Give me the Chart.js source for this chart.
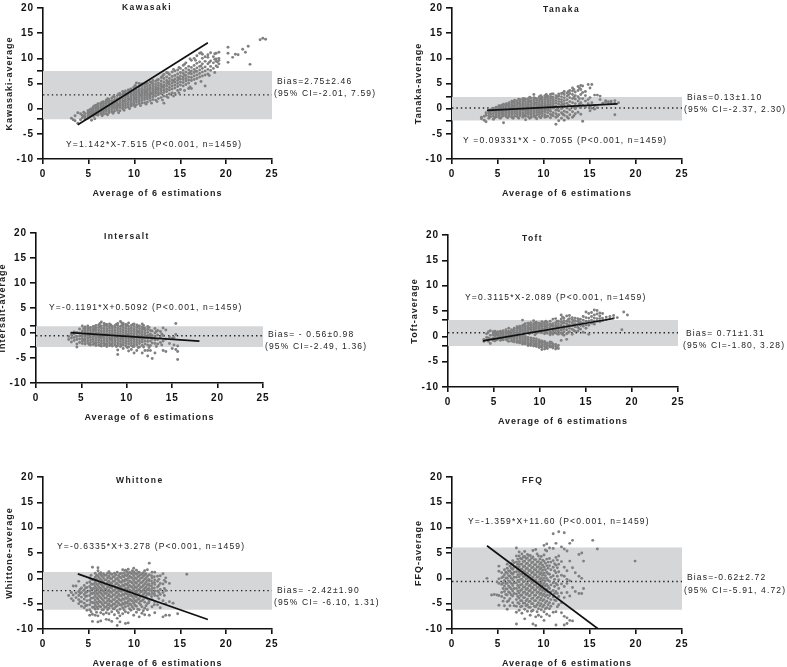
<!DOCTYPE html>
<html>
<head>
<meta charset="utf-8">
<title>Bland-Altman plots</title>
<script src="https://cdn.jsdelivr.net/npm/chart.js@4/dist/chart.umd.min.js"></script>
<style>
  html, body { margin: 0; background: #fff; overflow: hidden; }
  #page { position: relative; width: 787px; height: 667px; overflow: hidden; }
  canvas { position: absolute; }
</style>
</head>
<body>
<div id="page"></div>
<script>
const xTickValues = [0, 5, 10, 15, 20, 25];
const yTickValues = [-10, -5, 0, 5, 10, 15, 20];

// each row is one x followed by the y values read at that x
const kawasakiPoints = [
  [3.1,-1.9],[3.3,-2.2],[3.5,-2.4,-1.4],[3.8,-2.9,-0.8],[4.1,-2.2,-1],[4.3,-1.8,-1.3],[4.6,-2.1,-1.6,-1],[4.9,-1.9,-1.4,-0.9,-0.4],
  [5.1,-1.7,-1.2,-0.7,-0.2],[5.3,-2.3,-1.3,-0.9,-0.5,0],[5.5,-1.5,-1.1,-0.7,-0.3,0.1,0.4],[5.8,-1.2,-0.8,-0.5,-0.1,0.3,0.7],
  [6,-1.3,-0.9,-0.6,-0.2,0.2,0.6,1],[6.3,-1,-0.6,-0.3,0.1,0.4,0.8,1.1],[6.6,-1.1,-0.7,-0.3,0,0.4,0.7,1.1,1.4],[6.9,-1,-0.5,-0.1,0.3,0.6,1,1.3,1.7],
  [7.2,-0.8,-0.4,0,0.4,0.7,1.1,1.5,1.9],[7.5,-0.6,-0.2,0.2,0.5,0.9,1.3,1.6,2.1],[7.8,-0.5,0,0.3,0.7,1.1,1.4,1.8,2.3],[8.1,-0.3,0.1,0.5,0.9,1.2,1.6,2,2.6],
  [8.4,-0.4,0.2,0.6,1,1.4,1.8,2.2,2.7,3],[8.7,0,0.4,0.8,1.2,1.6,2,2.4,2.8,3.4],[9,0.2,0.6,1,1.4,1.8,2.2,2.6,3,3.5],[9.3,0.3,0.8,1.2,1.6,2,2.4,2.8,3.2,3.7],
  [9.6,0.5,0.9,1.3,1.7,2.1,2.5,2.9,3.3,3.9],[9.9,0.7,1.1,1.5,1.9,2.3,2.7,3.1,3.5,4.2],[10.2,0.8,1.3,1.7,2.1,2.5,2.9,3.3,3.7,4.3,5.1],[10.5,1,1.4,1.8,2.2,2.6,3,3.4,3.8,4.4,5],
  [10.8,1.1,1.6,2,2.4,2.8,3.2,3.6,4,4.6,4.9],[11.1,1.2,1.8,2.2,2.6,3,3.4,3.8,4.3,4.8],[11.4,1.3,1.9,2.3,2.7,3.1,3.6,4,4.5,5],[11.7,1.6,2.1,2.5,2.9,3.3,3.8,4.2,4.7,5.3],
  [12,1.8,2.3,2.8,3.2,3.6,4,4.5,5,5.6],[12.3,1.7,2.5,3,3.4,3.8,4.3,4.8,5.4],[12.6,2,2.8,3.2,3.7,4.1,4.6,5.1,5.8],[12.9,2.2,3,3.5,3.9,4.4,4.9,5.5,6.2],
  [13.2,1.1,2.5,3.2,3.7,4.2,4.7,5.3,6,6.8],[13.5,2.4,3.4,3.9,4.5,5,5.6,6.3,7.2],[13.8,2.9,3.7,4.2,4.8,5.4,6,6.8],[14.1,3.1,3.9,4.5,5.1,5.7,6.4,7.3],
  [14.4,3,4.1,4.7,5.3,5.9,6.6,7.5],[14.7,3.6,4.4,5,5.6,6.2,6.9,7.7],[15,3.8,4.7,5.3,5.9,6.5,7.2,8],[15.3,4.5,5.2,5.8,6.3,7,7.6,8.6],
  [15.6,4.8,5.5,6,6.6,7.3,8,9.1],[15.9,4,5.1,5.7,6.3,7,7.7,8.4],[16.2,4,5.6,6.2,6.9,7.5,8.2,9.6],[16.5,5.8,6.5,7.2,7.8,8.6,10],
  [16.8,6,6.7,7.4,8.1,9,10.5],[17.1,6.3,7,7.7,8.4,9.3,11],[17.4,6.5,7.3,8,8.9,10,10.8],[17.7,4.5,6.7,7.5,8.3,9.4,10.3],
  [18,6.9,7.8,8.9,10.2,10.7],[18.3,7.6,8.4,9.5,11.1],[18.6,8,9.1,10.3],[18.9,8.5,9.4,9.9,11],[19.2,8.9,9.6,10,11.2],
  [20.2,9.2,11,12.2],[20.7,10.2],[21,10.8],[21.3,10.7],[21.8,11.8],[22.1,11.2],[22.4,12.4],[22.6,8.8],[23.7,13.7],[24,14],[24.3,13.8]
];
const kawasakiEdge = [
  [4.45,-1.5,-0.7],[5.65,-2,-0.9,0.6],[6.45,-1.4,0.2,1.3],[7.05,-1.2,1.5,2],[7.65,-0.9,1,2.4],[8.25,-0.8,0.7,2.9],[8.85,-0.3,1.5,3.1],[9.45,0,1.9,3.7],
  [10.05,0.4,2,4.6],[10.65,0.6,2.7,4.7],[11.25,0.9,3.3,5],[11.85,1.1,3,5.2],[12.45,1.4,4,5.7],[13.05,1.7,4.4,6.5],[13.65,2.2,5.2,7.1],[14.25,2.5,5.5,7.8],
  [14.85,3.1,6,8.2],[15.45,3.6,6.7,8.8],[16.05,4.3,7.2,9.9],[16.65,5,7.5,9.6],[17.25,5.4,8.5,11.1],[18.15,6.6,9.2],[18.75,7.2,9.8,10.9],[19.05,8.3,9.3]
];
const kawasakiBand = [-2.1, 7.5];
const kawasakiBias = 2.75;
const kawasakiFitX = [3.8, 18];
const kawasakiFitY = [-3.2, 13.1];

const tanakaPoints = [
  [3.2,-2,-1.7],[3.5,-2.3,-1.5],[3.7,-2.6,-1.3,-0.8],[4,-1.9,-1.4,-0.9,-0.4],[4.2,-1.6,-1.1,-0.6,-0.2],[4.5,-2.1,-1.5,-1,-0.6,-0.2,0.1],
  [4.8,-1.6,-1.2,-0.8,-0.4,0,0.3],[5.1,-1.7,-1.3,-0.9,-0.5,-0.1,0.3,0.6],[5.4,-1.6,-1.1,-0.7,-0.3,0.1,0.5,0.7],[5.6,-2.8,-1.4,-1,-0.6,-0.2,0.2,0.6,0.9],
  [5.9,-1.6,-1.2,-0.8,-0.4,0,0.4,0.7,1],[6.2,-1.5,-1.1,-0.7,-0.3,0.1,0.5,0.9,1.2],[6.5,-1.7,-1.2,-0.8,-0.4,0,0.4,0.8,1.2,1.5],[6.8,-1.5,-1,-0.6,-0.2,0.2,0.6,1,1.4,1.7],
  [7.1,-1.6,-1.2,-0.8,-0.4,0,0.4,0.8,1.2,1.6],[7.4,-1.4,-1,-0.6,-0.2,0.2,0.6,1,1.4,1.8],[7.7,-1.7,-1.2,-0.8,-0.3,0.1,0.5,0.9,1.3,1.7,2],[8,-2.2,-1.5,-1,-0.6,-0.2,0.2,0.6,1,1.4,1.9],
  [8.3,-1.6,-1.1,-0.7,-0.3,0.1,0.5,0.9,1.3,1.7,2],[8.6,-1.7,-1.2,-0.8,-0.4,0,0.4,0.8,1.2,1.6,2.1],[8.9,-1.5,-1,-0.6,-0.2,0.2,0.6,1,1.4,1.8,2.2,2.8],[9.2,-2,-1.3,-0.8,-0.4,0,0.4,0.8,1.2,1.6,2],
  [9.5,-1.6,-1.1,-0.7,-0.3,0.1,0.5,0.9,1.3,1.7,2.1,2.4],[9.8,-1.4,-0.9,-0.5,-0.1,0.3,0.7,1.1,1.5,1.9,2.3],[10.1,-1.7,-1.2,-0.6,-0.2,0.2,0.6,1,1.4,1.8,2.2,2.6],[10.4,-1.5,-0.8,-0.3,0.1,0.5,0.9,1.3,1.7,2.1,2.5],
  [10.7,-1.8,-1.1,-0.5,0,0.4,0.8,1.2,1.6,2,2.4,2.8],[11,-1.4,-0.8,0.1,0.6,1,1.4,1.8,2.3,2.9],[11.3,-3.1,-1.7,-1,-0.3,0.5,1.1,1.6,2.1,2.6],[11.6,-2.4,-1.2,-0.4,0.3,0.9,1.4,1.9,2.5,2.9],
  [11.9,-1.9,-0.8,0,0.8,1.3,1.8,2.4,3],[12.2,-2.3,-1.3,-0.5,0.4,1,1.6,2.2,2.8,3.4],[12.5,-1.6,-0.7,0.1,1.1,1.8,2.5,3.1],[12.8,-1.2,-0.2,0.6,1.4,2.2,3,3.6],
  [13.1,-1.7,-0.6,0.4,1.2,2,2.8,3.5,4.1],[13.4,-1,0,1,1.9,2.6,3.3],[13.7,-0.7,0.5,1.5,2.4,3.6,4.4],[14,-1.1,0.2,1.2,2.8,3.8,4.6],[14.2,-2.5,0.7,2,3.2,4.5],
  [14.5,0.3,1.5,2.6,3.4],[14.8,1,1.8,4.8],[15,-0.4,0.5,2.2,4.1],[15.2,0.1,1.2,4.8],[15.5,-0.1,0.6,2.7],[15.8,0.2,2.7],[16.1,2.5,1.8],[16.4,1.1],[16.7,1.3,1.6],[17,1,1.4],[17.3,1.2,1.5],[17.7,-1.2,1.1,1.6],[18.1,1.2]
];
const tanakaEdge = [
  [4.65,-1.8,-0.3],[5.25,-1.9,0.5],[6.05,-1.8,0.8],[6.65,-1.9,0.5,1.3],[7.25,-1.9,1.1,1.9],[7.85,-1.4,1.7,2],[8.45,-1.9,1.5,2.3],[9.05,-1.7,1.1,2.1],
  [9.65,-1.8,1.9,2.6],[10.25,-1.6,2.3,2.8],[10.85,-1.3,2.2,2.9],[11.45,-1.5,0,2.4],[12.05,-1.1,0.9,3.1],[12.65,-1.9,0.7,2.7,3.4],[13.25,-1.4,0.3,2.3,3.8],[13.85,0.9,2,4.1]
];
const tanakaBand = [-2.37, 2.3];
const tanakaBias = 0.13;
const tanakaFitX = [3.8, 18];
const tanakaFitY = [-0.35, 0.97];

const intersaltPoints = [
  [3.6,-1.3,-0.7],[3.9,-1.8,-1,-0.3],[4.2,-1.5,-0.9,-0.2,0.2],[4.5,-2.8,-2.2,-1.3,-0.7,0.1],[4.8,-1.9,-1.2,-0.6,0,0.8],
  [5.1,-2.1,-1.6,-1.1,-0.6,-0.1,0.4,1.4],[5.4,-2.2,-1.7,-1.2,-0.7,-0.2,0.3,0.8,1.2],[5.7,-2,-1.5,-1,-0.5,0,0.5,1,1.4],[6,-2.4,-1.9,-1.4,-0.9,-0.4,0.1,0.6,1.1],
  [6.3,-2.3,-1.7,-1.2,-0.7,-0.2,0.3,0.8,1.3],[6.6,-2.5,-2,-1.5,-1,-0.5,0,0.5,1,1.5],[6.9,-2.4,-1.9,-1.4,-0.9,-0.4,0.1,0.6,1.1,1.6],[7.2,-2.6,-2.1,-1.6,-1.1,-0.6,-0.1,0.4,0.9,1.4,2.2],
  [7.5,-2.5,-2,-1.5,-1,-0.5,0,0.5,1,1.5,1.9],[7.8,-2.7,-2.2,-1.7,-1.2,-0.7,-0.2,0.3,0.8,1.3,1.7],[8.1,-2.5,-2,-1.5,-1,-0.5,0,0.5,1,1.4,1.8],[8.4,-2.6,-2.1,-1.6,-1.1,-0.6,-0.1,0.4,0.9,1.3],
  [8.7,-2.4,-1.9,-1.4,-0.9,-0.4,0.1,0.6,1.1,1.5],[9,-4.3,-3.4,-2.5,-2,-1.5,-1,-0.5,0,0.5,1,1.5,1.9],[9.3,-2.7,-2.2,-1.7,-1.2,-0.7,-0.2,0.3,0.8,1.3,2.3],[9.6,-3.1,-2.4,-1.9,-1.4,-0.9,-0.4,0.1,0.6,1.1,1.6,1.9],
  [9.9,-2.6,-2.1,-1.6,-1.1,-0.6,-0.1,0.4,0.9,1.4,1.7],[10.2,-3.6,-2.8,-2.2,-1.7,-1.2,-0.7,-0.2,0.3,0.8,1.3,2],[10.5,-3.3,-2.5,-2,-1.5,-1,-0.5,0,0.5,1,1.5],[10.8,-4,-2.7,-2.2,-1.7,-1.2,-0.7,-0.2,0.3,0.8,1.3,1.8],
  [11.1,-3.5,-2.4,-1.9,-1.4,-0.9,-0.4,0.1,0.6,1.1,1.6],[11.4,-2.8,-2.1,-1.6,-1.1,-0.6,-0.1,0.4,0.9,1.4],[11.7,-4,-2.5,-1.8,-1.3,-0.8,-0.3,0.2,0.7,1.2,1.8],[12,-3.5,-2.2,-1.6,-1,-0.5,0,0.5,1],
  [12.3,-4.6,-3.5,-2.4,-1.7,-1.1,-0.5,0.1,0.7,1.3],[12.6,-3.5,-2.5,-1.6,-0.9,-0.2,0.5],[12.8,-5.1,-2,-1.2,-0.5,0.4],[13.1,-4,-2.1,-1.4,-0.7,0,0.9],[13.4,-2.2,-1.3,-0.4,0.5],
  [13.7,-1.9,-0.9,0.3],[14,-3.5,-1.6,-0.5,1],[14.3,-3.7,-1.2,0.6],[14.7,-2.1,-0.8],[15,-3.1,-1.1],[15.2,-2.4,-0.9],[15.4,-3.3,1.9,-0.3],[15.6,-5.3,-3.7,-2.6]
];
const intersaltEdge = [
  [5.25,-1.4,0.9],[5.85,-2.3,0.9],[6.45,-2.1,0.6,1.2],[7.05,-2.5,-0.8,1.3,1.9],[7.65,-2.3,-0.3,1.7],[8.25,-2.3,-1.2,1.6],[8.85,-2.7,-0.7,1.7],[9.45,-2.4,-1,1.5,2],
  [10.05,-2.9,-0.4,1.6],[10.65,-2.7,-0.9,1.7],[11.25,-2.9,0.2,1.4],[11.85,-2.8,-0.9,0.9,1.5],[12.45,-2.9,-0.6,1.1],[13.25,-2.7,0.3],[13.85,-2.4,-0.2]
];
const intersaltBand = [-2.8, 1.36];
const intersaltBias = -0.56;
const intersaltFitX = [3.8, 18];
const intersaltFitY = [0.06, -1.63];

const toftPoints = [
  [3.9,-1,-0.6],[4.2,-0.7,-0.2,0.5],[4.4,-1,-0.3,0.9],[4.6,-1.4,-0.5,0.2,1.1],[4.9,-0.8,-0.3,0.3,0.9],[5.1,-0.9,-0.4,0.1,0.6,1],
  [5.4,-0.6,-0.2,0.2,0.5,0.9],[5.7,-0.8,-0.4,0,0.3,0.7,1],[6,-0.7,-0.3,0.1,0.4,0.8,1.1],[6.3,-0.6,-0.2,0.1,0.5,0.9,1.3],[6.6,-1,-0.4,-0.1,0.2,0.6,1,1.6],
  [6.9,-0.9,-0.5,-0.2,0.2,0.5,0.9,1.3],[7.2,-1.1,-0.7,-0.3,0,0.4,0.8,1.2,1.6],[7.5,-1.2,-0.8,-0.4,0,0.3,0.7,1.1,1.5,1.9],[7.8,-1.3,-0.9,-0.5,-0.1,0.3,0.8,1.2,1.6,2],
  [8.1,-1.5,-1.1,-0.7,-0.3,0.1,0.9,1.3,1.7,2.1,3.2],[8.4,-1.5,-1.2,-0.8,-0.4,0,0.8,1.2,1.6,2,2.5],[8.7,-1.8,-1.4,-1,-0.6,-0.2,0.9,1.3,1.7,2.1,2.6],[9,-1.8,-1.5,-1.1,-0.7,-0.3,1,1.4,1.8,2.2,2.7],
  [9.3,-1.9,-1.5,-1.1,-0.8,-0.4,0.9,1.3,1.7,2.1,2.5,3.1],[9.6,-2,-1.6,-1.3,-0.9,-0.5,0.6,1.1,1.6,2,2.4,2.8],[9.9,-2.2,-1.8,-1.4,-1,-0.7,0.8,1.3,1.7,2.1,2.6],[10.2,-2.6,-2.1,-1.7,-1.3,-0.9,0.7,1.2,1.6,2,2.5,2.9],
  [10.5,-2.5,-2,-1.6,-1.2,-1,0.5,1,1.5,2,2.4,2.8],[10.8,-2.4,-2,-1.7,-1.3,0.6,1.2,1.7,2.2,2.7],[11.1,-2.1,-1.8,-1.4,-1.1,0.3,0.9,1.4,1.9,2.4,3],[11.4,-2.3,-1.9,-1.5,0.4,1,1.5,2,2.5,3.4],
  [11.7,-2.5,-2,-1.6,0.7,1.2,1.7,2.2,2.7,3.5],[12,-2.4,-1.8,0.4,1,1.5,2,2.5,3],[12.3,-0.8,0.6,1.2,1.8,2.3,2.9,3.4,4.2],[12.6,0.2,0.9,1.5,2,2.6,3.1,3.6],[12.9,-0.6,0.5,1.3,1.9,2.5,3,4],
  [13.2,0.9,1.6,2.3,2.9,3.5,4.1],[13.5,0.4,1.4,2.1,2.7,3.3,3.7],[13.8,1,1.9,2.5,3.1,3.6],[14.1,1,1.8,2.4,3,3.5],[14.4,1.4,2.2,2.8,3.4],[14.7,0.8,2,2.6,3.2,3.9],
  [15,1.6,2.3,3,3.7,4.8],[15.3,0.4,2.2,3,3.6,4.5],[15.6,2.6,3.2,3.9,4.7],[15.9,2.4,3,3.6,4.2,5.2],[16.2,3,3.5,4.4,5.1],[16.5,2.9,3.5,4,4.6],[16.8,3.1,3.6,4.5],[17.2,3.3,3.8],[17.6,3.5,3.9],[18,3.6,4.1],[18.4,3.7],[18.9,1.3],[19.1,4.8],[19.5,4.2]
];
const toftEdge = [
  [5.25,-0.7,0.4],[5.85,-0.6,0.6],[6.45,-0.8,0.7],[7.05,-1,1.1],[7.65,-1.1,0.5,1.7],[8.25,-1.3,0.5,2.3],[8.85,-1.6,0.5,1.5,2.4],[9.45,-1.7,0.3,1.5,2.6],
  [10.05,-2,-1.1,1,2.3],[10.65,-2.2,-1.4,0.8,1.8,3],[11.25,-2,-1.2,0.7,2.2],[11.85,-2.2,0.5,1.9,3],[12.45,0.4,1.6,2.7,3.8],[13.05,0.7,2.1,3.3],[13.65,1.2,2.3,3.1],[14.25,1.5,2.6,3.3]
];
const toftBand = [-1.9, 3.2];
const toftBias = 0.71;
const toftFitX = [3.8, 18];
const toftFitY = [-0.9, 3.52];

const whittonePoints = [
  [2.8,-3.4],[3.1,-4,-2.8],[3.3,-4.4,-3.3,-1.5],[3.6,-3.8,-2.9,-1.5],[3.9,-5,-4.2,-3.4,-2.6,-0.6],[4.2,-5.5,-4.6,-3.7,-2.8,-1.9],[4.5,-5.8,-4.9,-4.1,-3.2,-2.3,-1.4],[4.8,-6.3,-5.3,-4.4,-3.5,-2.7,-1.8,-0.9],
  [5.1,-7.3,-6.2,-5.2,-4.3,-3.4,-2.5,-1.6,-0.7,0.1],[5.4,-8.5,-7.1,-5.7,-4.8,-3.9,-3,-2.1,-1.2,-0.3,2.2],[5.7,-7.3,-6.1,-5.2,-4.3,-3.4,-2.5,-1.6,-0.7,0.2,1],[6,-8.6,-7.4,-6,-5,-4.1,-3.2,-2.3,-1.4,-0.5,0.4,1.5,2.1],
  [6.3,-8.4,-6.8,-5.6,-4.7,-3.8,-2.9,-2,-1.1,-0.2,0.7,1.1],[6.6,-7.1,-6.2,-5.3,-4.4,-3.5,-2.6,-1.7,-0.8,0.1,0.9],[6.9,-8.1,-6.8,-5.7,-4.8,-3.9,-3,-2.1,-1.2,-0.3,0.6],[7.2,-8.2,-7,-5.9,-5,-4.1,-3.2,-2.3,-1.4,-0.5,0.4,1.3],
  [7.5,-8.5,-6.6,-5.5,-4.6,-3.7,-2.8,-1.9,-1,-0.1,0.8],[7.8,-7.2,-6,-5.1,-4.2,-3.3,-2.4,-1.5,-0.6,0.3,1],[8.1,-9.3,-7.9,-6.4,-5.4,-4.5,-3.6,-2.7,-1.8,-0.9,0,1.2],[8.4,-8.6,-7.4,-6.1,-5.2,-4.3,-3.4,-2.5,-1.6,-0.7,0.2,0.9],
  [8.7,-7,-5.8,-4.9,-4,-3.1,-2.2,-1.3,-0.4,0.5,1.7],[9,-8.9,-6.6,-5.6,-4.7,-3.8,-2.9,-2,-1.1,-0.2,0.7,1.6],[9.3,-8.8,-6.8,-5.4,-4.5,-3.6,-2.7,-1.8,-0.9,0,0.9,1.8],[9.6,-6.3,-5.2,-4.3,-3.4,-2.5,-1.6,-0.7,0.2,1],
  [9.9,-7.3,-6,-4.9,-4,-3.1,-2.2,-1.3,-0.4,0.5,1.3,2],[10.2,-6.7,-5.5,-4.6,-3.7,-2.8,-1.9,-1,-0.1,0.8,1.6],[10.5,-7.6,-6.2,-4.9,-4,-3.1,-2.2,-1.3,-0.4,0.5,1.2],[10.8,-6.9,-5.6,-4.4,-3.5,-2.6,-1.7,-0.8,0.1,0.9],
  [11.1,-7.2,-5.9,-4.7,-3.8,-2.9,-2,-1.1,-0.2,0.7,1.5],[11.4,-6.2,-5,-4,-3.1,-2.2,-1.3,-0.4,0.4,1.7],[11.6,-7.3,-4.4,-3.2,-2.3,-1.4,-0.5,0.7,3],[11.9,-5.6,-4.2,-3,-2,-1,0.1,1.2],
  [12.2,-6.8,-4.6,-3.4,-2.5,-1.2,-0.3,1.2],[12.5,-5.2,-3.5,-2.5,-1.7,-0.6,0.4],[12.8,-5.8,-3.2,-2.2,-1,0.5],[13.1,-7.6,-4.4,-2.8,-1.1,0.9],[13.4,-7.3,-5,-2.4,-0.7,0.1],[13.8,-7.3,-4.6,-1],[14.2,-4.9],[14.7,-7],[15.7,0.8]
];
const whittoneFill = [
  [4.05,-4.6,-3,-2.2],[4.65,-5.4,-3.6,-2.8,-1.9],[5.25,-6.6,-4.7,-3.9,-3,-2,-1.1,-0.2,0.6],[5.55,-5.7,-4.8,-3.8,-2.9,-2,-1.1,-0.2],[5.85,-6.7,-5.6,-4.7,-3.8,-2.9,-2,-1.1,-0.2,0.6],
  [6.15,-5.5,-4.5,-3.6,-2.7,-1.8,-0.9,0.1,0.9],[6.45,-6.2,-5,-4.1,-3.2,-2.3,-1.4,-0.5,0.4],[6.75,-5.7,-4.8,-3.9,-3,-2.1,-1.2,-0.3,0.6],[7.05,-6.2,-5.3,-4.4,-3.5,-2.6,-1.7,-0.8,0.1,1],
  [7.35,-5.4,-4.5,-3.6,-2.7,-1.8,-0.9,0,0.9],[7.65,-6,-5.1,-4.2,-3.3,-2.4,-1.5,-0.6,0.3],[7.95,-5.6,-4.7,-3.8,-2.9,-2,-1.1,-0.2,0.7],[8.25,-6.8,-4.9,-4,-3.1,-2.2,-1.3,-0.4,0.5],
  [8.55,-5.3,-4.4,-3.5,-2.6,-1.7,-0.8,0.1,1],[8.85,-6.2,-5.1,-4.2,-3.3,-2.4,-1.5,-0.6,0.3,1.1],[9.15,-4.9,-4,-3.1,-2.2,-1.3,-0.4,0.5,1.3],[9.45,-6,-5,-4.1,-3.2,-2.3,-1.4,-0.5,0.4,1.2],
  [9.75,-5.6,-4.5,-3.6,-2.7,-1.8,-0.9,0,0.9,1.5],[10.05,-5.3,-4.4,-3.5,-2.6,-1.7,-0.8,0.1,1],[10.35,-6.1,-4.2,-3.3,-2.4,-1.5,-0.6,0.3,1.1],[10.65,-5.2,-4.5,-3.6,-2.7,-1.8,-0.9,0,0.7],
  [10.95,-6.4,-4.2,-3.2,-2.3,-1.4,-0.5,0.4,1.1],[11.25,-5.4,-3.5,-2.6,-1.7,-0.8,0.1,0.9],[11.55,-4.8,-3,-2,-1.1,-0.2],[11.85,-3.6,-2.5,-1.5,-0.5,0.5],[12.15,-5.2,-3,-1.9,-0.8,0.3],[12.65,-4,-2.8,-1.4,-0.2],[13.25,-3.4,-2,-0.4]
];
const whittoneBand = [-6.2, 1.25];
const whittoneBias = -2.42;
const whittoneFitX = [3.8, 18];
const whittoneFitY = [0.87, -8.13];

const ffqPoints = [
  [3.8,0],[4.3,-3.3],[4.6,-3.2],[4.9,-3.3,-0.7],[5.1,-5.3,-3.4,-1,-0.1,1.4,2.4],[5.4,-3.6,-2.8,-1.2,0.1,1.1],[5.7,-5.4,-3.9,-2.6,-1.5,-0.4,0.7,1.7],
  [6,-6.1,-4.6,-3.3,-2.1,-1,0,1,2,2.8],[6.3,-5.4,-4,-2.9,-1.8,-0.7,0.4,1.4,2.4],[6.6,-4.8,-3.5,-2.5,-1.4,-0.3,0.8,1.8,2.7,3.5],[7,-9,-6.7,-5.5,-4.2,-3.1,-2,-0.9,0.2,1.3,2.3,3.2,4.4,6],
  [7.3,-6.3,-5,-3.9,-2.9,-1.8,-0.7,0.3,1.3,2.3,3.3,4.4,5.2],[7.6,-6.9,-5.5,-4.4,-3.3,-2.2,-1.2,-0.2,0.8,1.8,2.8,3.8,4.8],[7.9,-8,-6.1,-4.9,-3.8,-2.7,-1.7,-0.6,0.4,1.4,2.4,3.4,4.3,5.3],[8.2,-6.5,-5.2,-4.1,-3,-2,-1,0,1,2,3,4,4.7],
  [8.5,-7.3,-5.7,-4.5,-3.4,-2.4,-1.4,-0.4,0.6,1.6,2.6,3.6,4.5],[8.8,-9,-6.3,-5,-3.9,-2.8,-1.8,-0.8,0.2,1.2,2.2,3.2,4.2,5.5],[9.1,-9.3,-7.6,-5.6,-4.4,-3.3,-2.3,-1.3,-0.3,0.7,1.7,2.7,3.7,5.7],[9.4,-7.3,-6,-4.8,-3.7,-2.7,-1.7,-0.7,0.3,1.3,2.3,3.3,4.4],
  [9.7,-7.6,-6.2,-5,-3.9,-2.9,-1.9,-0.9,0.1,1.1,2.1,3.1,4.3],[10,-8.3,-6.6,-5.3,-4.2,-3.1,-2.1,-1,0,1,2.2,3.4,4.6,6.5],[10.3,-7.1,-5.8,-4.5,-3.3,-2.2,-1.2,0,1.2,2.5,3.8,5.4,6.8],[10.6,-7.4,-6,-4.8,-3.4,-2,-0.6,0.8,2.5,3.9,6],
  [11,-6.7,-5,-3.7,-2.4,-0.9,0.5,2.2,3.5,8.8,5.9],[11.3,-9.2,-6.6,-4.4,-2.6,-1,1.1,2.6,4.1,6.9],[11.6,-5.2,-3.6,-2,-0.3,1.3,2.8,4.4,9.2],[11.9,-6.8,-4.8,-2.9,-1.1,0.6,3.3,6.2],
  [12.2,-9.2,-7.5,-3.8,-1.6,0.4,2.2,9,5.8],[12.5,-8.9,-7.8,-2.8,-1,-0.2,1.5,5.4],[12.8,-8.3,-3.5,-0.5,3.4,6.9],[13.1,-8.4,-1.8,2.1,7.5],[13.4,-2.6,1.1],[13.8,-3,4.7,0.4],[14.1,-3,0,5],[14.3,-2,3.4],[15.3,7.5],[15.8,5.8],[19.9,3.4]
];
const ffqFill = [
  [5.55,-4.5,-2,-0.9,0.3],[5.85,-3.2,-2.1,-1,0.1,1.2],[6.15,-4.4,-2.7,-1.5,-0.5,0.5,1.5],[6.45,-3.3,-2.1,-1,0,1,2,2.9],[6.75,-5.4,-3,-2,-0.9,0.2,1.2,2.2,3.1],
  [7.15,-4.8,-3.6,-2.5,-1.4,-0.4,0.7,1.8,2.8,3.8],[7.45,-5.6,-4.4,-3.4,-2.4,-1.3,-0.2,0.8,1.8,2.8,3.9],[7.75,-4.9,-3.8,-2.8,-1.7,-0.7,0.3,1.3,2.3,3.3,4.2],[8.05,-5.4,-4.4,-3.2,-2.2,-1.2,-0.1,0.9,1.9,2.9,3.9],[8.35,-5.7,-4.6,-3.5,-2.5,-1.5,-0.5,0.5,1.5,2.5,3.5,4.5],
  [8.65,-6.5,-5,-4,-2.9,-1.9,-0.9,0.1,1.1,2.1,3.1,4],[8.95,-5.5,-4.4,-3.4,-2.3,-1.3,-0.3,0.7,1.7,2.7,3.7],[9.25,-6.6,-5.2,-3.9,-2.8,-1.8,-0.8,0.2,1.2,2.2,3.2,4.8],[9.55,-5.4,-4.3,-3.2,-2.2,-1.2,-0.2,0.8,1.8,2.8,3.8],
  [9.85,-5.6,-4.4,-3.4,-2.4,-1.4,-0.4,0.6,1.6,2.6,3.6],[10.15,-6,-4.8,-3.6,-2.6,-1.5,-0.5,0.5,1.7,3,5.6],[10.45,-5.2,-3.9,-2.7,-1.6,-0.4,0.9,2,3.2],[10.75,-5.5,-4.2,-2.7,-1.3,0.2,1.7,3.2],[11.15,-4.3,-3,-1.6,-0.2,1.5,2.9],[11.45,-5.6,-3,-1.3,0.4,2.1,3.6]
];
const ffqBand = [-6.2, 6.1];
const ffqBias = -0.62;
const ffqFitX = [3.8, 15.9];
const ffqFitY = [6.44, -10];

const panels = [
  { id: 'Kawasaki', points: kawasakiPoints.concat(kawasakiEdge), band: kawasakiBand, bias: kawasakiBias, fitX: kawasakiFitX, fitY: kawasakiFitY,
    left: 43, top: 7, w: 229, h: 152, labels: [
      ['Kawasaki', 122, 8, true], ['Bias=2.75±2.46', 277, 82], ['(95% CI=-2.01, 7.59)', 274, 94], ['Y=1.142*X-7.515 (P<0.001, n=1459)', 66, 145]] },
  { id: 'Tanaka', points: tanakaPoints.concat(tanakaEdge), band: tanakaBand, bias: tanakaBias, fitX: tanakaFitX, fitY: tanakaFitY,
    left: 452, top: 7, w: 230, h: 152, labels: [
      ['Tanaka', 543, 10, true], ['Bias=0.13±1.10', 687, 98], ['(95% CI=-2.37, 2.30)', 684, 110], ['Y =0.09331*X - 0.7055 (P<0.001, n=1459)', 463, 141]] },
  { id: 'Intersalt', points: intersaltPoints.concat(intersaltEdge), band: intersaltBand, bias: intersaltBias, fitX: intersaltFitX, fitY: intersaltFitY,
    left: 36, top: 232, w: 227, h: 151, labels: [
      ['Intersalt', 104, 237, true], ['Bias= - 0.56±0.98', 268, 335], ['(95% CI=-2.49, 1.36)', 265, 347], ['Y=-0.1191*X+0.5092 (P<0.001, n=1459)', 49, 308]] },
  { id: 'Toft', points: toftPoints.concat(toftEdge), band: toftBand, bias: toftBias, fitX: toftFitX, fitY: toftFitY,
    left: 448, top: 234, w: 230, h: 153, labels: [
      ['Toft', 522, 239, true], ['Bias= 0.71±1.31', 686, 334], ['(95% CI=-1.80, 3.28)', 683, 346], ['Y=0.3115*X-2.089 (P<0.001, n=1459)', 465, 298]] },
  { id: 'Whittone', points: whittonePoints.concat(whittoneFill), band: whittoneBand, bias: whittoneBias, fitX: whittoneFitX, fitY: whittoneFitY,
    left: 43, top: 476, w: 229, h: 153, labels: [
      ['Whittone', 116, 481, true], ['Bias= -2.42±1.90', 277, 591], ['(95% CI= -6.10, 1.31)', 274, 603], ['Y=-0.6335*X+3.278 (P<0.001, n=1459)', 57, 547]] },
  { id: 'FFQ', points: ffqPoints.concat(ffqFill), band: ffqBand, bias: ffqBias, fitX: ffqFitX, fitY: ffqFitY,
    left: 452, top: 476, w: 230, h: 153, labels: [
      ['FFQ', 522, 481, true], ['Bias=-0.62±2.72', 687, 578], ['(95% CI=-5.91, 4.72)', 684, 591], ['Y=-1.359*X+11.60 (P<0.001, n=1459)', 468, 522]] }
];

const FONT = '"Liberation Sans", Arial, sans-serif';
const PAD_LEFT = 42, PAD_TOP = 8, PAD_RIGHT = 110, PAD_BOTTOM = 48;

// spaced out text and the loose labels that sit on each panel
const panelText = {
  id: 'panelText',
  beforeDraw(chart) {
    chart.ctx.letterSpacing = '1px';
  },
  afterDraw(chart, args, opts) {
    const ctx = chart.ctx;
    ctx.save();
    ctx.textBaseline = 'middle';
    ctx.textAlign = 'left';
    ctx.fillStyle = '#222';
    opts.labels.forEach(l => {
      ctx.font = (l[3] ? 'bold 8.5px ' : '8.5px ') + FONT;
      ctx.letterSpacing = l[3] ? '1.4px' : '1.15px';
      ctx.fillText(l[0], l[1] - opts.originX, l[2] - opts.originY);
    });
    ctx.restore();
  }
};

function flatten(rows) {
  const out = [];
  rows.forEach(row => {
    row.slice(1).forEach(y => out.push({ x: row[0], y: y }));
  });
  return out;
}

function drawPanel(p) {
  const canvas = document.createElement('canvas');
  const originX = p.left - PAD_LEFT, originY = p.top - PAD_TOP;
  canvas.width = PAD_LEFT + p.w + PAD_RIGHT;
  canvas.height = PAD_TOP + p.h + PAD_BOTTOM;
  canvas.style.left = originX + 'px';
  canvas.style.top = originY + 'px';
  document.getElementById('page').appendChild(canvas);

  new Chart(canvas.getContext('2d'), {
    type: 'scatter',
    data: {
      datasets: [
        {
          type: 'line',
          data: [{ x: 0, y: p.band[1] }, { x: 25, y: p.band[1] }],
          fill: { value: p.band[0] },
          backgroundColor: '#d5d6d8',
          borderWidth: 0,
          pointRadius: 0,
          order: 4
        },
        {
          type: 'line',
          data: [{ x: 0, y: p.bias }, { x: 25, y: p.bias }],
          borderColor: '#222',
          borderWidth: 1.4,
          borderDash: [1.4, 3],
          pointRadius: 0,
          order: 3
        },
        {
          data: flatten(p.points),
          backgroundColor: '#808080',
          borderWidth: 0,
          pointRadius: 1.45,
          order: 2
        },
        {
          type: 'line',
          data: [{ x: p.fitX[0], y: p.fitY[0] }, { x: p.fitX[1], y: p.fitY[1] }],
          borderColor: '#111',
          borderWidth: 1.7,
          pointRadius: 0,
          order: 1
        }
      ]
    },
    options: {
      responsive: false,
      animation: false,
      devicePixelRatio: 1,
      layout: { padding: { left: 0, top: PAD_TOP, right: PAD_RIGHT, bottom: 0 } },
      plugins: {
        legend: { display: false },
        tooltip: { enabled: false },
        panelText: { labels: p.labels, originX: originX, originY: originY }
      },
      scales: {
        x: {
          type: 'linear',
          min: 0,
          max: 25,
          afterBuildTicks: s => { s.ticks = xTickValues.map(v => ({ value: v })); },
          afterFit: s => { s.height = PAD_BOTTOM; },
          border: { color: '#111', width: 1.6 },
          grid: { drawOnChartArea: false, color: '#111', lineWidth: 1.6, tickLength: 5 },
          ticks: { color: '#111', padding: 4, maxRotation: 0, autoSkip: false, font: { family: FONT, size: 10, weight: 'bold' } },
          title: { display: true, text: 'Average of 6 estimations', color: '#222', padding: { top: 0, bottom: 8 }, font: { family: FONT, size: 9, weight: 'bold' } }
        },
        y: {
          type: 'linear',
          min: -10,
          max: 20,
          // the band limits also carry an unlabelled tick
          afterBuildTicks: s => {
            s.ticks = yTickValues.concat(p.band).sort((a, b) => a - b).map(v => ({ value: v }));
          },
          afterFit: s => { s.width = PAD_LEFT; },
          border: { color: '#111', width: 1.6 },
          grid: { drawOnChartArea: false, color: '#111', lineWidth: 1.6, tickLength: 6 },
          ticks: {
            color: '#111',
            padding: 3,
            autoSkip: false,
            font: { family: FONT, size: 10, weight: 'bold' },
            callback: v => (yTickValues.includes(v) ? v : '')
          },
          title: { display: true, text: p.id + '-average', color: '#222', padding: { top: 3, bottom: 0 }, font: { family: FONT, size: 9, weight: 'bold' } }
        }
      }
    },
    plugins: [panelText]
  });
}

panels.forEach(drawPanel);
</script>
</body>
</html>
